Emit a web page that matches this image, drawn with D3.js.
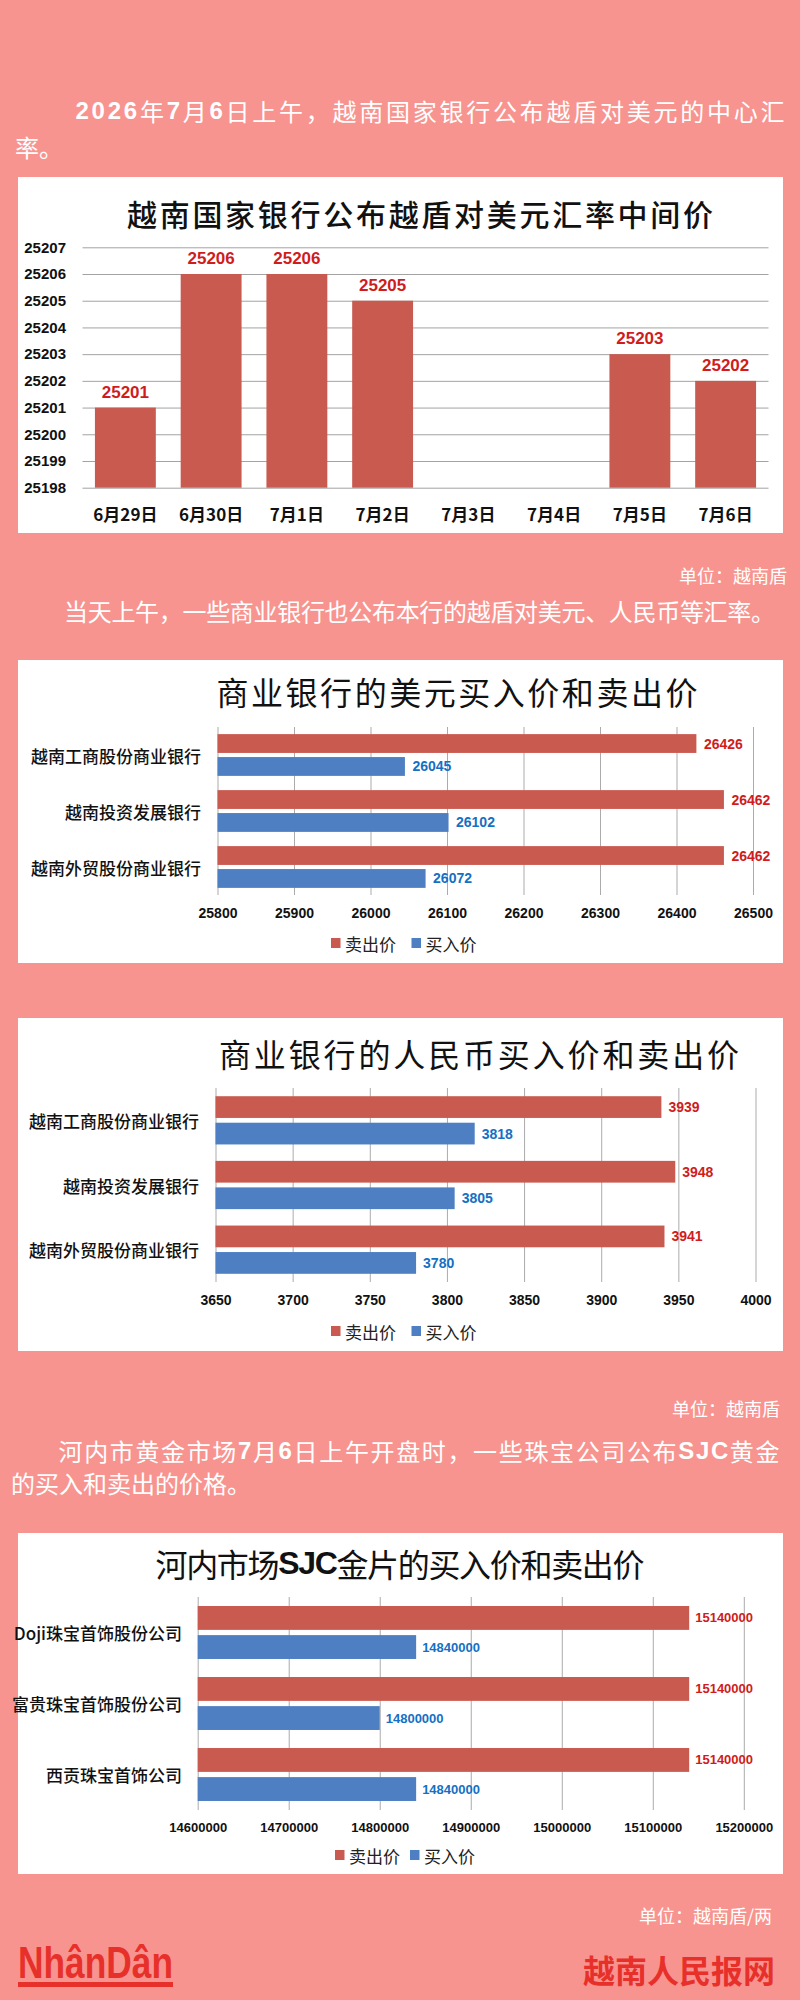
<!DOCTYPE html>
<html><head><meta charset="utf-8">
<script src="https://cdn.jsdelivr.net/npm/d3@7"></script>
<style>
html,body{margin:0;padding:0;background:#f8948f;}
svg{display:block;}
</style></head><body>
<svg id="c" width="800" height="2000"></svg>
<script>
// ---------- DATA ----------
const dates = ["6月29日","6月30日","7月1日","7月2日","7月3日","7月4日","7月5日","7月6日"];
const midRates = [25201, 25206, 25206, 25205, null, null, 25203, 25202];
const midTicks = [25198,25199,25200,25201,25202,25203,25204,25205,25206,25207];

const seriesNames = ["卖出价","买入价"];

const banks = ["越南工商股份商业银行","越南投资发展银行","越南外贸股份商业银行"];
const usdSell = [26426, 26462, 26462];
const usdBuy  = [26045, 26102, 26072];
const usdTicks = [25800,25900,26000,26100,26200,26300,26400,26500];

const cnySell = [3939, 3948, 3941];
const cnyBuy  = [3818, 3805, 3780];
const cnyTicks = [3650,3700,3750,3800,3850,3900,3950,4000];

const goldCompanies = ["Doji珠宝首饰股份公司","富贵珠宝首饰股份公司","西贡珠宝首饰公司"];
const goldSell = [15140000, 15140000, 15140000];
const goldBuy  = [14840000, 14800000, 14840000];
const goldTicks = [14600000,14700000,14800000,14900000,15000000,15100000,15200000];

// ---------- STYLE ----------
const BG = "#f8948f", RED = "#c95a50", BLUE = "#4e7fc3";
const RED_T = "#d01c1c", BLUE_T = "#1570c4";
const CJK = "'Noto Sans CJK SC','Noto Sans',sans-serif";
const NUM = "'Liberation Sans',Arial,sans-serif";

const svg = d3.select("#c");
svg.append("rect").attr("width",800).attr("height",2000).attr("fill",BG);

function textLine(x, y, parts, o) {
  const t = svg.append("text").attr("x", x).attr("y", y)
    .attr("dominant-baseline","central")
    .attr("font-family", CJK).attr("font-size", o.size)
    .attr("fill", o.fill || "#fff")
    .attr("text-anchor", o.anchor || "start");
  if (o.len) t.attr("textLength", o.len).attr("lengthAdjust", o.adjust || "spacing");
  if (o.weight) t.attr("font-weight", o.weight);
  parts.forEach(p => {
    const s = t.append("tspan").text(p[0]);
    if (p[1]) s.attr("font-family", NUM).attr("font-weight", "bold");
  });
  return t;
}

// ---------- TEXT BLOCKS ----------
textLine(75.5, 110, [["2026",1],["年"],["7",1],["月"],["6",1],["日上午，越南国家银行公布越盾对美元的中心汇"]], {size:24, len:709});
textLine(15, 146, [["率。"]], {size:24});
textLine(787, 575, [["单位：越南盾"]], {size:18, anchor:"end"});
textLine(64, 610, [["当天上午，一些商业银行也公布本行的越盾对美元、人民币等汇率。"]], {size:24, len:711});
textLine(780, 1408, [["单位：越南盾"]], {size:18, anchor:"end"});
textLine(58.5, 1450, [["河内市黄金市场"],["7",1],["月"],["6",1],["日上午开盘时，一些珠宝公司公布"],["SJC",1],["黄金"]], {size:24, len:721});
textLine(11, 1482, [["的买入和卖出的价格。"]], {size:24});
textLine(772, 1915, [["单位：越南盾/两"]], {size:18, anchor:"end"});

// ---------- CHART 1 ----------
svg.append("rect").attr("x",18).attr("y",177).attr("width",765).attr("height",356).attr("fill","#fff");
textLine(420, 213, [["越南国家银行公布越盾对美元汇率中间价"]], {size:30, len:586, anchor:"middle", fill:"#111", weight:500});

const x1 = d3.scaleBand().domain(dates).range([82.5, 768.5]).paddingInner(0.29).paddingOuter(0.145);
const y1 = d3.scaleLinear().domain([25198, 25207]).range([487.7, 247.3]);

const gy = svg.append("g").attr("transform","translate(82.5,0)")
  .call(d3.axisLeft(y1).tickValues(midTicks).tickFormat(d3.format("d")).tickSize(-686).tickPadding(16.5));
gy.select(".domain").remove();
gy.selectAll(".tick line").attr("stroke","#a3a3a3").attr("stroke-width",1);
gy.selectAll(".tick text").attr("font-family",NUM).attr("font-weight","bold").attr("font-size",15).attr("fill","#111");

const mid = dates.map((d,i)=>({d, v: midRates[i]}));
svg.append("g").selectAll("rect").data(mid.filter(e=>e.v!==null)).join("rect")
  .attr("x", e=>x1(e.d)).attr("width", x1.bandwidth())
  .attr("y", e=>y1(e.v)).attr("height", e=>y1(25198)-y1(e.v)).attr("fill", RED);
svg.append("g").selectAll("text").data(mid.filter(e=>e.v!==null)).join("text")
  .attr("x", e=>x1(e.d)+x1.bandwidth()/2).attr("y", e=>y1(e.v)-10)
  .attr("text-anchor","middle").attr("font-family",NUM).attr("font-weight","bold")
  .attr("font-size",17).attr("fill",RED_T).text(e=>e.v);
svg.append("g").selectAll("text").data(dates).join("text")
  .attr("x", d=>x1(d)+x1.bandwidth()/2).attr("y", 513)
  .attr("text-anchor","middle").attr("dominant-baseline","central")
  .attr("font-family",CJK).attr("font-weight","bold").attr("font-size",17).attr("fill","#111").text(d=>d);

// ---------- HORIZONTAL CHARTS ----------
function hChart(o) {
  svg.append("rect").attr("x",18).attr("y",o.box[0]).attr("width",765).attr("height",o.box[1]-o.box[0]).attr("fill","#fff");
  textLine(o.title[1], o.title[2], o.title[0], {size:32, len:o.title[3], anchor:"middle", fill:"#111"});
  const x = d3.scaleLinear().domain([o.ticks[0], o.ticks[o.ticks.length-1]]).range(o.xr);
  const yc = d3.scaleBand().domain(o.cats).range(o.yr);
  const ys = d3.scaleBand().domain(seriesNames).range([0, yc.bandwidth()]).paddingInner(0.18).paddingOuter(0.31);
  const ga = svg.append("g").attr("transform",`translate(0,${o.yr[1]})`)
    .call(d3.axisBottom(x).tickValues(o.ticks).tickFormat(d3.format("d")).tickSize(-(o.yr[1]-o.yr[0])));
  ga.select(".domain").remove();
  ga.selectAll(".tick line").attr("stroke","#ababab");
  ga.selectAll(".tick text").attr("y", o.tickY - o.yr[1]).attr("dy", null).attr("dominant-baseline","central")
    .attr("font-family",NUM).attr("font-weight","bold").attr("font-size",o.tickSize).attr("fill","#111");
  const rows = [];
  o.cats.forEach((c,i)=>{
    rows.push({c, s: seriesNames[0], v: o.sell[i], fill: RED, tc: RED_T});
    rows.push({c, s: seriesNames[1], v: o.buy[i], fill: BLUE, tc: BLUE_T});
  });
  svg.append("g").selectAll("rect").data(rows).join("rect")
    .attr("x", x(o.ticks[0])).attr("width", r=>x(r.v)-x(o.ticks[0]))
    .attr("y", r=>yc(r.c)+ys(r.s)).attr("height", ys.bandwidth()).attr("fill", r=>r.fill);
  svg.append("g").selectAll("text").data(rows).join("text")
    .attr("x", r=>x(r.v)+o.valGap).attr("y", r=>yc(r.c)+ys(r.s)+ys.bandwidth()/2)
    .attr("dominant-baseline","central").attr("font-family",NUM).attr("font-weight","bold")
    .attr("font-size",o.valSize).attr("fill", r=>r.tc).text(r=>r.v);
  svg.append("g").selectAll("text").data(o.cats).join("text")
    .attr("x", o.catRight).attr("y", c=>yc(c)+yc.bandwidth()/2)
    .attr("text-anchor","end").attr("dominant-baseline","central")
    .attr("font-family",CJK).attr("font-weight",500).attr("font-size",17).attr("fill","#111").text(c=>c);
  const lg = svg.append("g");
  seriesNames.forEach((s,i)=>{
    lg.append("rect").attr("x", o.legX[i]).attr("y", o.legY-5).attr("width",9.5).attr("height",10).attr("fill", i? BLUE: RED);
    lg.append("text").attr("x", o.legX[i]+14).attr("y", o.legY).attr("dominant-baseline","central")
      .attr("font-family",CJK).attr("font-size",17).attr("fill","#222").text(s);
  });
}

hChart({box:[660,963], title:[[["商业银行的美元买入价和卖出价"]],457,691,481],
  cats:banks, sell:usdSell, buy:usdBuy, ticks:usdTicks, xr:[217.5,753], yr:[727,895],
  tickY:913, tickSize:14, valGap:7.5, valSize:14, catRight:201, legX:[331,411.5], legY:943});
hChart({box:[1018,1351], title:[[["商业银行的人民币买入价和卖出价"]],479,1053,520],
  cats:banks, sell:cnySell, buy:cnyBuy, ticks:cnyTicks, xr:[215.5,755.5], yr:[1088,1282],
  tickY:1300, tickSize:14, valGap:7, valSize:14, catRight:199, legX:[331,411.5], legY:1331});
hChart({box:[1533,1874], title:[[["河内市场"],["SJC",1],["金片的买入价和卖出价"]],400,1563,489],
  cats:goldCompanies, sell:goldSell, buy:goldBuy, ticks:goldTicks, xr:[197.7,743.8], yr:[1597,1810],
  tickY:1827, tickSize:13, valGap:6, valSize:13, catRight:182, legX:[335,410], legY:1855});

// ---------- FOOTER ----------
svg.append("text").attr("x",18).attr("y",1978).attr("font-family",NUM).attr("font-weight","bold")
  .attr("font-size",44).attr("fill","#e8302a").attr("textLength",155).attr("lengthAdjust","spacingAndGlyphs").text("NhânDân");
svg.append("rect").attr("x",18).attr("y",1982).attr("width",155).attr("height",5).attr("fill","#e8302a");
textLine(775, 1969, [["越南人民报网"]], {size:32, anchor:"end", fill:"#e8302a", weight:"bold"});
</script>
</body></html>
